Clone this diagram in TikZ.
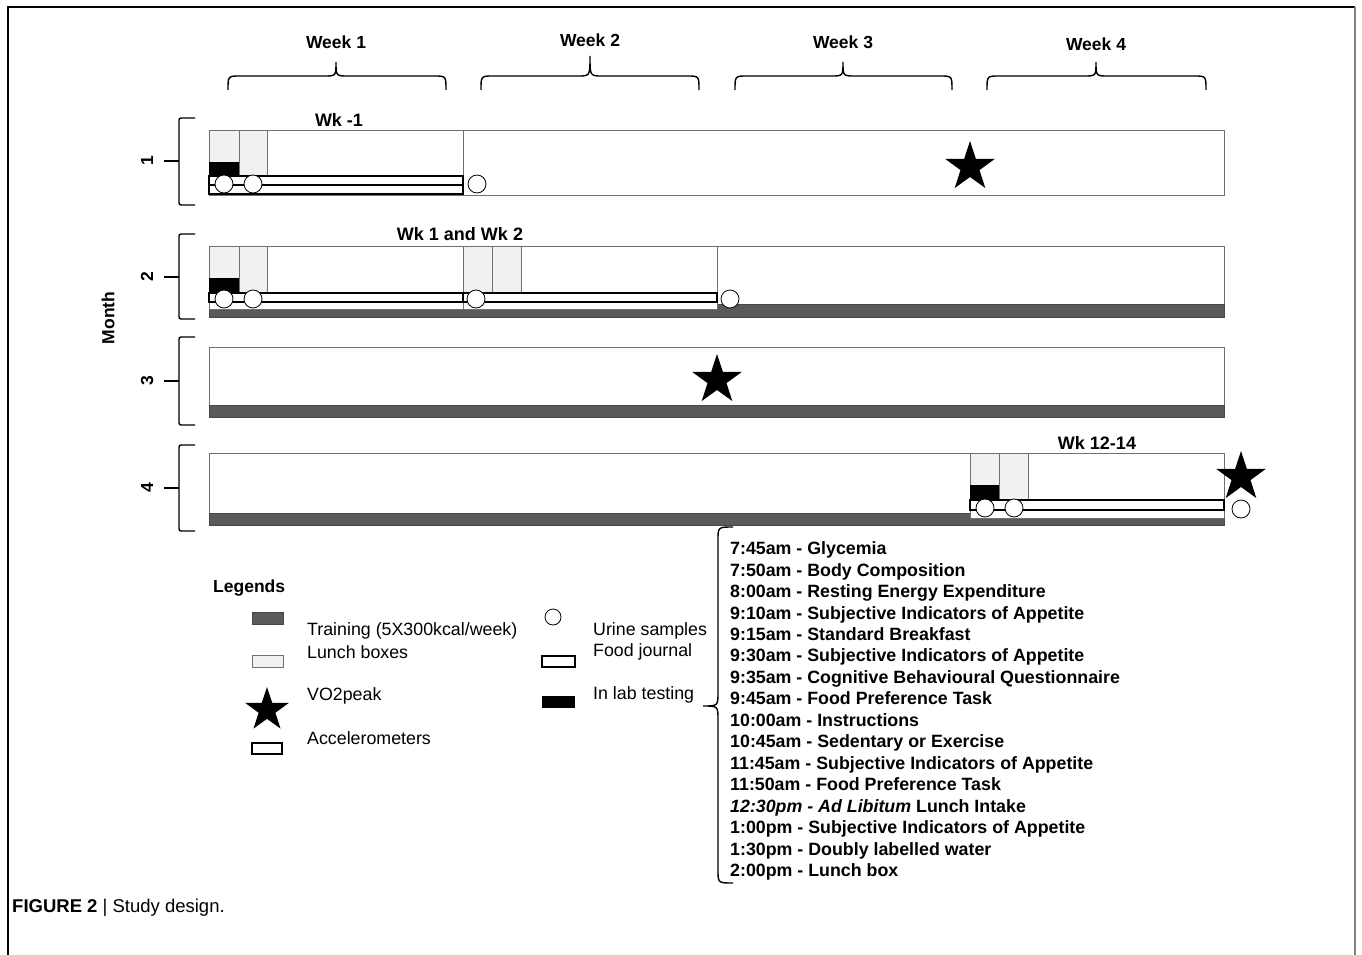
\documentclass[tikz,border=0pt]{standalone}
\usepackage{amsmath,tikz,amsfonts,amssymb}
\usepackage{fontspec}
\setmainfont{Liberation Sans}
\usetikzlibrary{shapes.geometric}

\definecolor{trainGray}{HTML}{5A5A5A}
\definecolor{lunchGray}{HTML}{F0F1F3}
\definecolor{edgeGray}{HTML}{707070}

\tikzset{
  rowbox/.style={draw=edgeGray, fill=white, line width=1},
  trainbar/.style={fill=trainGray, draw=trainGray!80!black, line width=0.6},
  lunchbox/.style={fill=lunchGray, draw=edgeGray, line width=1},
  labbox/.style={fill=black},
  journal/.style={draw=black, line width=2.6},
  urine/.style={circle, draw=black, fill=white, line width=0.8, minimum size=18, inner sep=0},
  vo2/.style={star, star points=5, star point ratio=2.6, fill=black, minimum size=52, inner sep=0},
  bracket/.style={draw=black, line width=1.4},
  headlbl/.style={font=\fontsize{17.5}{20}\selectfont\bfseries},
  wklbl/.style={font=\fontsize{18}{20}\selectfont\bfseries},
  leglbl/.style={font=\fontsize{17.8}{20}\selectfont, anchor=west, inner sep=0},
}

\begin{document}
\begin{tikzpicture}[x=1pt, y=-1pt]
\useasboundingbox (0,0) rectangle (1362,955);
% frame
\draw[line width=1.6] (8,955) -- (8,7) -- (1355,7);
\draw[line width=1.6, gray] (1355,7) -- (1355,955);

% week braces
\draw[bracket] (228,90) .. controls (228,76) .. (240,76) -- (324,76) .. controls (336,76) .. (336,62) .. controls (336,76) .. (348,76) -- (434,76) .. controls (446,76) .. (446,90);
\draw[bracket] (481,90) .. controls (481,76) .. (493,76) -- (578,76) .. controls (590,76) .. (590,56) .. controls (590,76) .. (602,76) -- (687,76) .. controls (699,76) .. (699,90);
\draw[bracket] (735,90) .. controls (735,76) .. (747,76) -- (831,76) .. controls (843,76) .. (843,62) .. controls (843,76) .. (855,76) -- (940,76) .. controls (952,76) .. (952,90);
\draw[bracket] (987,90) .. controls (987,76) .. (999,76) -- (1084,76) .. controls (1096,76) .. (1096,62) .. controls (1096,76) .. (1108,76) -- (1194,76) .. controls (1206,76) .. (1206,90);
\node[headlbl] (w1) at (336,42) {Week 1};
\node[headlbl] (w2) at (590,40) {Week 2};
\node[headlbl] (w3) at (843,42) {Week 3};
\node[headlbl] (w4) at (1096,44) {Week 4};

% month brackets
\draw[bracket, rounded corners=2] (195,118) -- (179,118) -- (179,205) -- (195,205);
\draw[bracket] (164,161) -- (179,161);
\draw[bracket, rounded corners=2] (195,234) -- (179,234) -- (179,319) -- (195,319);
\draw[bracket] (164,277) -- (179,277);
\draw[bracket, rounded corners=2] (195,337) -- (179,337) -- (179,425) -- (195,425);
\draw[bracket] (164,381) -- (179,381);
\draw[bracket, rounded corners=2] (195,445) -- (179,445) -- (179,531) -- (195,531);
\draw[bracket] (164,488) -- (179,488);
\node[headlbl, rotate=90] (m1) at (147,161) {1};
\node[headlbl, rotate=90] (m2) at (147,277) {2};
\node[headlbl, rotate=90] (m3) at (147,381) {3};
\node[headlbl, rotate=90] (m4) at (147,488) {4};
\node[headlbl, rotate=90] (month) at (108,318) {Month};

% month 1
\draw[rowbox] (209,131) rectangle (1224,195);
\draw[edgeGray, line width=1] (463,131) -- (463,195);
\draw[lunchbox] (209,131) rectangle (239,162);
\fill[labbox] (209,162) rectangle (239,175);
\draw[lunchbox] (239,131) rectangle (267,175);
\draw[journal] (209,176) rectangle (463,185);
\draw[journal] (209,185) rectangle (463,194);
\node[urine] (u11) at (224,184) {};
\node[urine] (u12) at (253,184) {};
\node[urine] (u13) at (477,184) {};
\node[vo2] (s1) at (970,167) {};
\node[wklbl] (wkm1) at (339,120) {Wk -1};

% month 2
\draw[rowbox] (209,246) rectangle (1224,317);
\draw[trainbar] (209,304) rectangle (1224,317);
\draw[rowbox] (209,246) rectangle (717,309);
\draw[edgeGray, line width=1] (463,246) -- (463,309);
\draw[lunchbox] (209,246) rectangle (239,278);
\fill[labbox] (209,278) rectangle (239,293);
\draw[lunchbox] (239,246) rectangle (267,293);
\draw[lunchbox] (463,246) rectangle (492,293);
\draw[lunchbox] (492,246) rectangle (521,293);
\draw[journal] (209,293) rectangle (463,302);
\draw[journal] (463,293) rectangle (717,302);
\node[urine] (u21) at (224,299) {};
\node[urine] (u22) at (253,299) {};
\node[urine] (u23) at (476,299) {};
\node[urine] (u24) at (730,299) {};
\node[wklbl] (wk12) at (460,234) {Wk 1 and Wk 2};

% month 3
\draw[rowbox] (209,347) rectangle (1224,417);
\draw[trainbar] (209,405) rectangle (1224,417);
\node[vo2] (s3) at (717,380) {};

% month 4
\draw[rowbox] (209,453) rectangle (1224,525);
\draw[trainbar] (209,513) rectangle (1224,525);
\draw[rowbox] (970,453) rectangle (1224,518);
\draw[lunchbox] (970,453) rectangle (999,485);
\fill[labbox] (970,485) rectangle (999,500);
\draw[lunchbox] (999,453) rectangle (1028,500);
\draw[journal] (970,500) rectangle (1224,510);
\node[urine] (u41) at (985,508) {};
\node[urine] (u42) at (1014,508) {};
\node[vo2] (s4) at (1241,477) {};
\node[urine] (u43) at (1241,509) {};
\node[wklbl] (wk1214) at (1097,443) {Wk 12-14};

% legend
\node[headlbl, anchor=west, inner sep=0] (leg) at (213,588) {Legends};
\draw[trainbar] (252,612) rectangle (283,624);
\node[leglbl] (ltrain) at (307,631) {Training (5X300kcal/week)};
\draw[lunchbox] (252,655) rectangle (283,667);
\node[leglbl] (llunch) at (307,652) {Lunch boxes};
\node[vo2, minimum size=46] (lstar) at (267,710) {};
\node[leglbl] (lvo2) at (307,696) {VO2peak};
\draw[journal] (252,743) rectangle (282,754);
\node[leglbl] (lacc) at (307,738) {Accelerometers};
\node[urine, minimum size=16] (lurine) at (553,617) {};
\node[leglbl] (lur) at (593,631) {Urine samples};
\draw[journal] (542,656) rectangle (575,667);
\node[leglbl] (lfood) at (593,652) {Food journal};
\fill[labbox] (542,696) rectangle (575,708);
\node[leglbl] (llab) at (593,695) {In lab testing};

% testing day
\draw[bracket] (733,527) .. controls (718,527) .. (718,540) -- (718,692) .. controls (718,706) .. (703,706) .. controls (718,706) .. (718,720) -- (718,870) .. controls (718,883) .. (733,883);
\node[anchor=north west, inner sep=0, align=left, font=\fontsize{17.8}{21.47}\selectfont\bfseries] (sched) at (730,541.5) {%
7:45am - Glycemia\\
7:50am - Body Composition\\
8:00am - Resting Energy Expenditure\\
9:10am - Subjective Indicators of Appetite\\
9:15am - Standard Breakfast\\
9:30am - Subjective Indicators of Appetite\\
9:35am - Cognitive Behavioural Questionnaire\\
9:45am - Food Preference Task\\
10:00am - Instructions\\
10:45am - Sedentary or Exercise\\
11:45am - Subjective Indicators of Appetite\\
11:50am - Food Preference Task\\
\textit{12:30pm - Ad Libitum} Lunch Intake\\
1:00pm - Subjective Indicators of Appetite\\
1:30pm - Doubly labelled water\\
2:00pm - Lunch box};

% caption
\node[anchor=west, inner sep=0, font=\fontsize{18.5}{20}\selectfont] (cap) at (12,908) {\textbf{FIGURE 2} | Study design.};
\end{tikzpicture}
\end{document}
